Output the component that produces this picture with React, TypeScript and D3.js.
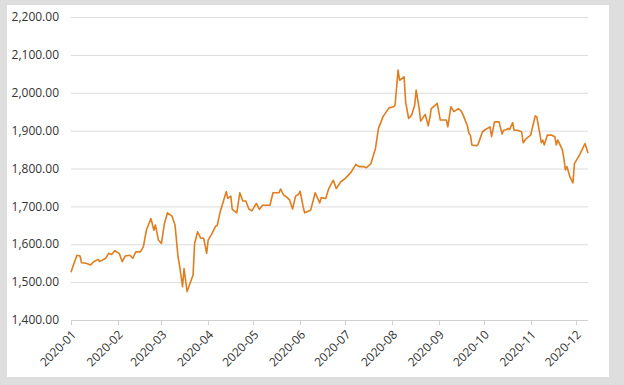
import React, { useEffect, useRef } from 'react';
import * as d3 from 'd3';

// gold price
const dates = [
  '2020-01-01', '2020-01-03', '2020-01-05', '2020-01-07', '2020-01-08', '2020-01-11', '2020-01-14',
  '2020-01-16', '2020-01-19', '2020-01-20', '2020-01-24', '2020-01-26', '2020-01-28', '2020-01-30',
  '2020-02-02', '2020-02-04', '2020-02-06', '2020-02-09', '2020-02-11', '2020-02-13', '2020-02-16',
  '2020-02-18', '2020-02-20', '2020-02-23', '2020-02-25', '2020-02-26', '2020-02-28', '2020-03-01',
  '2020-03-03', '2020-03-05', '2020-03-08', '2020-03-10', '2020-03-12', '2020-03-13', '2020-03-15',
  '2020-03-16', '2020-03-18', '2020-03-20', '2020-03-22', '2020-03-23', '2020-03-25', '2020-03-27',
  '2020-03-29', '2020-03-31', '2020-04-01', '2020-04-03', '2020-04-06', '2020-04-07', '2020-04-09',
  '2020-04-11', '2020-04-13', '2020-04-14', '2020-04-16', '2020-04-17', '2020-04-20', '2020-04-22',
  '2020-04-24', '2020-04-26', '2020-04-28', '2020-04-30', '2020-05-03', '2020-05-05', '2020-05-07',
  '2020-05-12', '2020-05-14', '2020-05-18', '2020-05-19', '2020-05-21', '2020-05-23', '2020-05-25',
  '2020-05-27', '2020-05-29', '2020-05-31', '2020-06-01', '2020-06-03', '2020-06-04', '2020-06-08',
  '2020-06-11', '2020-06-14', '2020-06-15', '2020-06-18', '2020-06-20', '2020-06-23', '2020-06-25',
  '2020-06-28', '2020-07-01', '2020-07-05', '2020-07-08', '2020-07-10', '2020-07-13', '2020-07-15',
  '2020-07-18', '2020-07-21', '2020-07-23', '2020-07-26', '2020-07-30', '2020-08-02', '2020-08-03',
  '2020-08-05', '2020-08-06', '2020-08-09', '2020-08-10', '2020-08-12', '2020-08-14', '2020-08-16',
  '2020-08-17', '2020-08-19', '2020-08-20', '2020-08-22', '2020-08-23', '2020-08-25', '2020-08-26',
  '2020-08-27', '2020-08-31', '2020-09-02', '2020-09-04', '2020-09-06', '2020-09-07', '2020-09-09',
  '2020-09-11', '2020-09-14', '2020-09-16', '2020-09-17', '2020-09-20', '2020-09-21', '2020-09-22',
  '2020-09-23', '2020-09-26', '2020-09-27', '2020-09-30', '2020-10-02', '2020-10-05', '2020-10-06',
  '2020-10-08', '2020-10-11', '2020-10-13', '2020-10-14', '2020-10-16', '2020-10-17', '2020-10-18',
  '2020-10-20', '2020-10-21', '2020-10-23', '2020-10-26', '2020-10-27', '2020-10-29', '2020-11-01',
  '2020-11-02', '2020-11-04', '2020-11-05', '2020-11-07', '2020-11-08', '2020-11-09', '2020-11-10',
  '2020-11-12', '2020-11-15', '2020-11-17', '2020-11-18', '2020-11-19', '2020-11-22', '2020-11-23',
  '2020-11-24', '2020-11-25', '2020-11-27', '2020-11-29', '2020-11-30', '2020-12-03', '2020-12-05',
  '2020-12-07', '2020-12-09',
];

const prices = [
  1526, 1550, 1571, 1569, 1551, 1550, 1545,
  1554, 1560, 1554, 1563, 1576, 1573, 1583,
  1576, 1554, 1569, 1571, 1563, 1580, 1580,
  1593, 1637, 1668, 1637, 1651, 1611, 1602,
  1655, 1683, 1674, 1651, 1567, 1545, 1488,
  1536, 1475, 1497, 1519, 1602, 1633, 1616,
  1616, 1576, 1611, 1624, 1648, 1649, 1686,
  1712, 1739, 1721, 1727, 1692, 1683, 1736,
  1714, 1714, 1693, 1688, 1708, 1692, 1703,
  1703, 1736, 1736, 1746, 1730, 1725, 1717,
  1693, 1727, 1732, 1740, 1699, 1683, 1690,
  1736, 1709, 1723, 1721, 1747, 1769, 1747,
  1765, 1774, 1791, 1811, 1805, 1805, 1802,
  1813, 1853, 1906, 1937, 1960, 1963, 1967,
  2060, 2033, 2042, 1976, 1932, 1941, 1967,
  2007, 1958, 1925, 1937, 1943, 1913, 1932,
  1958, 1972, 1928, 1928, 1928, 1910, 1963,
  1950, 1958, 1951, 1943, 1912, 1893, 1888,
  1862, 1860, 1863, 1897, 1903, 1910, 1884,
  1923, 1923, 1891, 1901, 1903, 1906, 1903,
  1921, 1901, 1901, 1897, 1868, 1879, 1888,
  1906, 1939, 1937, 1893, 1868, 1875, 1862,
  1888, 1888, 1884, 1862, 1875, 1849, 1827,
  1796, 1805, 1778, 1762, 1813, 1833, 1849,
  1866, 1841,
];

const yTicks = [1400, 1500, 1600, 1700, 1800, 1900, 2000, 2100, 2200];

const W = 624;
const H = 385;
const margin = { top: 17, right: 36, bottom: 65, left: 71 };

export default function App() {
  const ref = useRef<SVGSVGElement>(null);

  useEffect(() => {
    const svg = d3.select(ref.current);
    svg.selectAll('*').remove();

    const parse = d3.timeParse('%Y-%m-%d');
    const data = dates.map((d, i) => ({ date: parse(d) as Date, value: prices[i] }));

    const x = d3
      .scaleTime()
      .domain([parse('2020-01-01') as Date, parse('2020-12-09') as Date])
      .range([margin.left, W - margin.right]);
    const y = d3
      .scaleLinear()
      .domain([1400, 2200])
      .range([H - margin.bottom, margin.top]);

    // background frame
    svg.append('rect').attr('width', W).attr('height', H).attr('fill', '#dedede');
    svg
      .append('rect')
      .attr('x', 7)
      .attr('y', 5)
      .attr('width', 602)
      .attr('height', 372)
      .attr('fill', '#fff');

    const font = "'Open Sans', sans-serif";

    // grid + y labels
    const yAxis = svg.append('g');
    yAxis
      .selectAll('line')
      .data(yTicks)
      .enter()
      .append('line')
      .attr('x1', margin.left)
      .attr('x2', W - margin.right)
      .attr('y1', (d) => y(d) + 0.5)
      .attr('y2', (d) => y(d) + 0.5)
      .attr('stroke', '#dcdcdc')
      .attr('stroke-width', 1);
    yAxis
      .selectAll('text')
      .data(yTicks)
      .enter()
      .append('text')
      .attr('x', margin.left - 12)
      .attr('y', (d) => y(d))
      .attr('dy', '0.35em')
      .attr('text-anchor', 'end')
      .attr('font-family', font)
      .attr('font-size', 12)
      .attr('fill', '#333')
      .text((d) => d3.format(',.2f')(d));

    // x axis
    const xTicks = d3.timeMonth.range(parse('2020-01-01') as Date, parse('2020-12-10') as Date);
    const xAxis = svg.append('g');
    xAxis
      .append('line')
      .attr('x1', margin.left)
      .attr('x2', W - margin.right)
      .attr('y1', y(1400) + 0.5)
      .attr('y2', y(1400) + 0.5)
      .attr('stroke', '#d0d0d0');
    xAxis
      .selectAll('line.tick')
      .data(xTicks)
      .enter()
      .append('line')
      .attr('class', 'tick')
      .attr('x1', (d) => Math.round(x(d)) + 0.5)
      .attr('x2', (d) => Math.round(x(d)) + 0.5)
      .attr('y1', y(1400))
      .attr('y2', y(1400) + 5)
      .attr('stroke', '#d0d0d0');
    xAxis
      .selectAll('text')
      .data(xTicks)
      .enter()
      .append('text')
      .attr('transform', (d) => `translate(${x(d) + 3},${y(1400) + 12.5}) rotate(-45)`)
      .attr('text-anchor', 'end')
      .attr('dy', '0.35em')
      .attr('font-family', font)
      .attr('font-size', 12)
      .attr('fill', '#333')
      .text((d) => d3.timeFormat('%Y-%m')(d));

    const line = d3
      .line<{ date: Date; value: number }>()
      .x((d) => x(d.date))
      .y((d) => y(d.value));

    svg
      .append('path')
      .datum(data)
      .attr('d', line)
      .attr('fill', 'none')
      .attr('stroke', '#e07d1e')
      .attr('stroke-width', 1.6)
      .attr('stroke-linejoin', 'round');
  }, []);

  return (
    <div style={{ position: 'absolute', left: 0, top: 0 }}>
      <svg ref={ref} width={W} height={H} style={{ display: 'block' }} />
    </div>
  );
}
